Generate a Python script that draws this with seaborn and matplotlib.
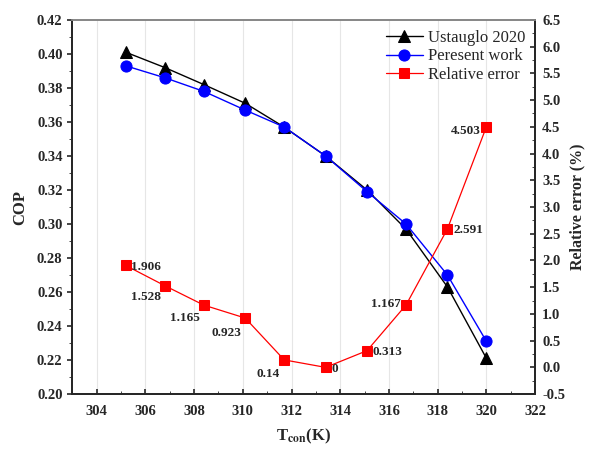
import numpy as np
import pandas as pd
import seaborn as sns
import matplotlib.pyplot as plt

# data
t_con = [305.2, 306.8, 308.4, 310.1, 311.7, 313.4, 315.1, 316.7, 318.4, 320.0]
cop_ustauglo = [0.401, 0.392, 0.382, 0.371, 0.357, 0.340, 0.320, 0.297, 0.263, 0.221]
cop_present = [0.393, 0.386, 0.378, 0.367, 0.357, 0.340, 0.319, 0.300, 0.270, 0.231]
rel_error = [1.906, 1.528, 1.165, 0.923, 0.14, 0, 0.313, 1.167, 2.591, 4.503]
err_labels = ['1.906', '1.528', '1.165', '0.923', '0.14', '0', '0.313', '1.167', '2.591', '4.503']

df = pd.DataFrame({'T': t_con, 'U': cop_ustauglo, 'P': cop_present, 'E': rel_error})

sns.set_style('ticks')
plt.rcParams['font.family'] = ['Liberation Serif', 'DejaVu Serif']
plt.rcParams['mathtext.fontset'] = 'stix'

fig = plt.figure(figsize=(5.92, 4.53), dpi=100)
ax = fig.add_axes([0.122, 0.130, 0.782, 0.826])
ax2 = ax.twinx()

sns.lineplot(data=df, x='T', y='U', ax=ax, color='black', marker='^', markersize=9,
             markeredgecolor='black', linewidth=1, label='Ustauglo 2020', legend=False)
sns.lineplot(data=df, x='T', y='P', ax=ax, color='blue', marker='o', markersize=8,
             markeredgecolor='blue', linewidth=1, label='Peresent work', legend=False)
sns.lineplot(data=df, x='T', y='E', ax=ax2, color='red', marker='s', markersize=7,
             markeredgecolor='red', linewidth=0.9, label='Relative error', legend=False)

# labels of the error values (offset in points, horizontal alignment)
offs = [(4, -1, 'left'), (-3, -8, 'right'), (-3, -9, 'right'), (-3, -11, 'right'),
        (-3, -10, 'right'), (4, -1, 'left'), (4, -1, 'left'), (-4, 1, 'right'),
        (4, -1, 'left'), (-4, -3, 'right')]
for x, y, s, (dx, dy, ha) in zip(t_con, rel_error, err_labels, offs):
    ax2.annotate(s, (x, y), xytext=(dx, dy), textcoords='offset points',
                 fontsize=9.5, fontweight='bold', ha=ha, va='center')

ax.set_xlim(303, 322)
ax.set_ylim(0.20, 0.42)
ax2.set_ylim(-0.5, 6.5)
ax.set_xticks(np.arange(304, 323, 2))
ax.set_yticks(np.arange(0.20, 0.421, 0.02))
ax2.set_yticks(np.arange(-0.5, 6.51, 0.5))
ax.set_xticks(np.arange(303, 322.1, 1), minor=True)
ax.set_yticks(np.arange(0.20, 0.421, 0.01), minor=True)
ax2.set_yticks(np.arange(-0.5, 6.51, 0.25), minor=True)
ax.set_yticklabels([f'{v:.2f}' for v in np.arange(0.20, 0.421, 0.02)])
ax2.set_yticklabels([f'{v:.1f}' for v in np.arange(-0.5, 6.51, 0.5)])
ax.grid(axis='x', color='#e6e6e6', linewidth=0.8)

ax.set_xlabel(r'T$_{\mathbf{con}}$(K)', fontsize=12, fontweight='bold', labelpad=6)
ax.set_ylabel('COP', fontsize=12, fontweight='bold', labelpad=6)
ax2.set_ylabel('Relative error (%)', fontsize=11.5, fontweight='bold', labelpad=3)

for a in (ax, ax2):
    a.tick_params(labelsize=10.5, width=1.2)
    for lab in a.get_xticklabels() + a.get_yticklabels():
        lab.set_fontweight('bold')
    for sp in a.spines.values():
        sp.set_linewidth(1.3)
ax.tick_params(axis='x', direction='in', which='both', pad=8)
ax.tick_params(axis='y', direction='out', which='both')
ax2.tick_params(axis='y', direction='in', which='both', pad=5)
ax.spines['top'].set_color('#888888')
ax2.spines['top'].set_color('#888888')

h1, l1 = ax.get_legend_handles_labels()
h2, l2 = ax2.get_legend_handles_labels()
ax2.legend(h1 + h2, l1 + l2, loc='upper right', frameon=False, fontsize=12,
           handlelength=2.2, borderaxespad=0.2, labelspacing=0.15, handletextpad=0.3)

fig.savefig('out.png', dpi=100)
